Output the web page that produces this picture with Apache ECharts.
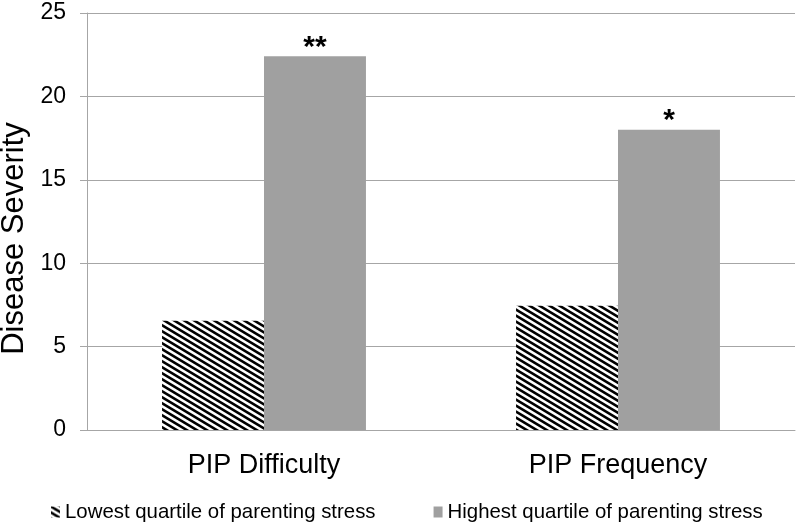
<!DOCTYPE html>
<html>
<head>
<meta charset="utf-8">
<script src="https://cdn.jsdelivr.net/npm/echarts@6/dist/echarts.min.js"></script>
<style>html,body{margin:0;padding:0;background:#fff}#c{width:800px;height:523px}</style>
</head>
<body>
<div id="c"></div>
<script>
var categories = ['PIP Difficulty', 'PIP Frequency'];
var lowestQuartile = [6.55, 7.45];
var highestQuartile = [22.4, 18.0];
var significance = ['**', '*'];
var seriesNames = ['Lowest quartile of parenting stress', 'Highest quartile of parenting stress'];
var yTicks = { min: 0, max: 25, interval: 5 };

function hatch() {
  var c = document.createElement('canvas');
  c.width = 10; c.height = 6;
  var g = c.getContext('2d');
  g.fillStyle = '#fff'; g.fillRect(0, 0, 10, 6);
  g.strokeStyle = '#000'; g.lineWidth = 2.6;
  for (var k = -3; k <= 3; k++) {
    g.beginPath();
    g.moveTo(-20, -12 + 6 * k);
    g.lineTo(30, 18 + 6 * k);
    g.stroke();
  }
  return { image: c, repeat: 'repeat' };
}
var pattern = hatch();
var FONT = 'Liberation Sans, Arial, sans-serif';

var chart = echarts.init(document.getElementById('c'), null, { renderer: 'canvas' });
chart.setOption({
  animation: false,
  backgroundColor: '#fff',
  textStyle: { fontFamily: FONT, color: '#000' },
  grid: { left: 87, right: 5, top: 13, bottom: 93, containLabel: false, outerBoundsMode: 'none' },
  legend: {
    top: 497,
    left: 46,
    itemGap: 58,
    itemWidth: 9,
    itemHeight: 11,
    icon: 'rect',
    textStyle: { fontFamily: FONT, fontSize: 20.4, color: '#000' },
    data: seriesNames
  },
  xAxis: {
    type: 'category',
    data: categories,
    axisLine: { lineStyle: { color: '#a6a6a6', width: 1 } },
    axisTick: { length: 7, lineStyle: { color: '#a6a6a6' } },
    axisLabel: { fontFamily: FONT, fontSize: 27, color: '#000', margin: 22 }
  },
  yAxis: {
    type: 'value',
    min: yTicks.min, max: yTicks.max, interval: yTicks.interval,
    name: 'Disease Severity',
    nameLocation: 'middle',
    nameGap: 55,
    nameTextStyle: { fontFamily: FONT, fontSize: 31, color: '#000', padding: [0, 34, 0, 0] },
    axisLine: { show: true, lineStyle: { color: '#a6a6a6' } },
    axisTick: { show: true, length: 7, lineStyle: { color: '#a6a6a6' } },
    axisLabel: { fontFamily: FONT, fontSize: 23, color: '#000', margin: 21 },
    splitLine: { lineStyle: { color: '#a6a6a6', width: 1 } }
  },
  series: [
    {
      name: seriesNames[0], type: 'bar', data: lowestQuartile,
      barWidth: '28.8%', barGap: '0%',
      itemStyle: { color: pattern }
    },
    {
      name: seriesNames[1], type: 'bar', data: highestQuartile,
      barWidth: '28.8%', barGap: '0%',
      itemStyle: { color: '#a0a0a0' },
      label: {
        show: true, position: 'top', distance: -6,
        fontFamily: FONT, fontSize: 30, fontWeight: 'bold', color: '#000',
        formatter: function (p) { return significance[p.dataIndex]; }
      }
    }
  ]
});
</script>
</body>
</html>
